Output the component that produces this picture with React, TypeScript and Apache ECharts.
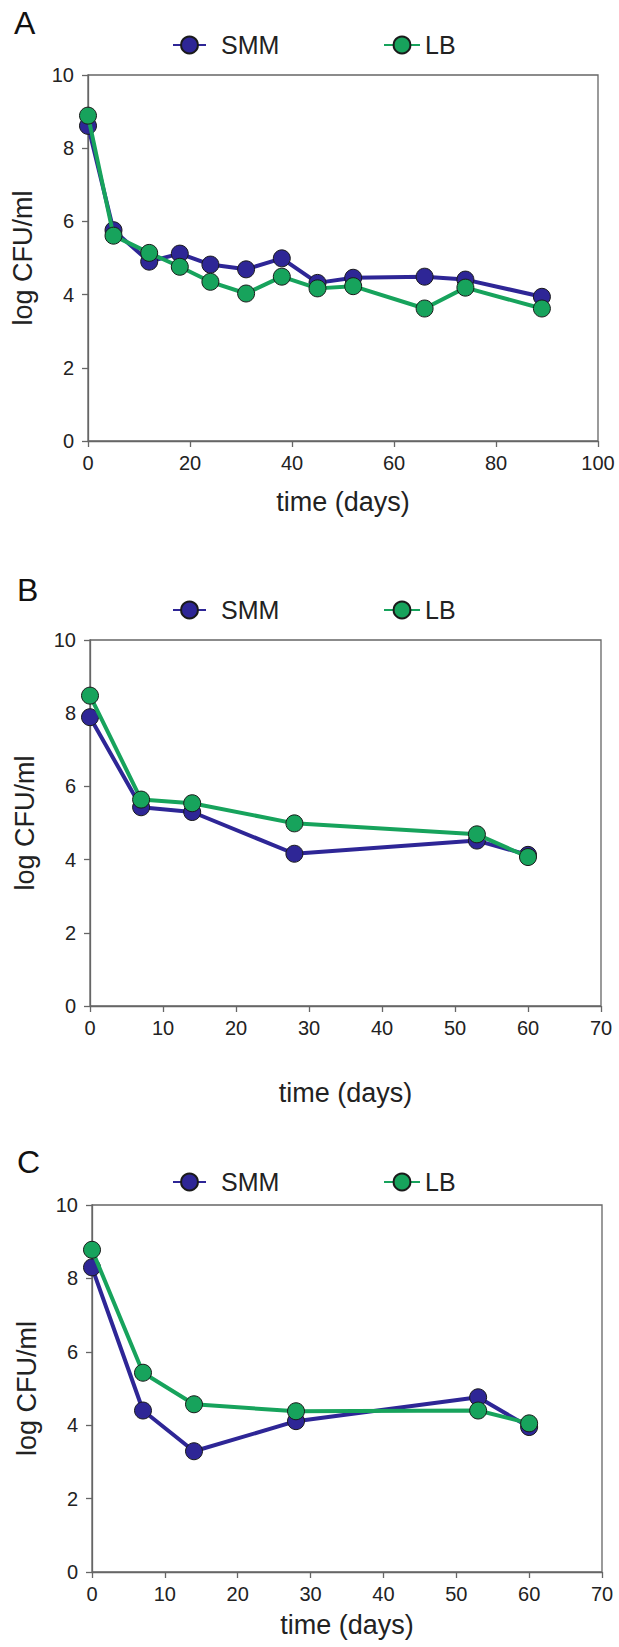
import React, { useEffect, useRef } from "react";
import * as echarts from "echarts";

// Survival curves: log CFU/ml over time for two growth media, three panels
const panelLetters = ["A", "B", "C"];
const seriesNames = ["SMM", "LB"];

const daysA = [0, 5, 12, 18, 24, 31, 38, 45, 52, 66, 74, 89];
const smmA = [8.61, 5.76, 4.9, 5.12, 4.82, 4.69, 4.99, 4.32, 4.46, 4.49, 4.41, 3.94];
const lbA = [8.89, 5.61, 5.14, 4.76, 4.35, 4.03, 4.49, 4.17, 4.23, 3.62, 4.19, 3.62];

const daysB = [0, 7, 14, 28, 53, 60];
const smmB = [7.89, 5.43, 5.3, 4.16, 4.52, 4.13];
const lbB = [8.48, 5.64, 5.54, 4.99, 4.69, 4.07];

const daysC = [0, 7, 14, 28, 53, 60];
const smmC = [8.3, 4.4, 3.29, 4.11, 4.76, 3.95];
const lbC = [8.78, 5.43, 4.57, 4.38, 4.4, 4.05];

const xMax = [100, 70, 70];
const xStep = [20, 10, 10];
const yMax = 10;
const yStep = 2;

const xTitle = "time (days)";
const yTitle = "log CFU/ml";

const FONT = "'Liberation Sans', Arial, sans-serif";
const SMM_COLOR = "#2e2696";
const LB_COLOR = "#17a35c";

// panel frames (px)
const grids = [
  { left: 88, top: 75, width: 510, height: 366 },
  { left: 90, top: 640, width: 511, height: 366 },
  { left: 92, top: 1205, width: 510, height: 367 },
];
const legendRows = [43, 608, 1180];
const letterRows = [23, 590, 1162];
const xNameGaps = [47, 73, 39];

export default function App() {
  const ref = useRef<HTMLDivElement>(null);

  useEffect(() => {
    if (!ref.current) return;
    const chart = echarts.init(ref.current, undefined, { renderer: "svg" });

    const panels = [
      { days: daysA, vals: [smmA, lbA] },
      { days: daysB, vals: [smmB, lbB] },
      { days: daysC, vals: [smmC, lbC] },
    ];
    const colors = [SMM_COLOR, LB_COLOR];

    const axisLine = { show: true, lineStyle: { color: "#666", width: 1.3 } };
    const axisTick = { show: true, inside: false, length: 6, lineStyle: { color: "#666", width: 1.3 } };
    const tickLabel = { fontSize: 20, color: "#222", fontFamily: FONT };
    const titleStyle = { fontSize: 27, color: "#222", fontFamily: FONT };

    const series: any[] = [];
    panels.forEach((p, i) => {
      p.vals.forEach((vals, k) => {
        series.push({
          type: "line",
          name: seriesNames[k],
          xAxisIndex: i,
          yAxisIndex: i,
          data: p.days.map((d, j) => [d, vals[j]]),
          symbol: "circle",
          symbolSize: 17,
          lineStyle: { color: colors[k], width: 4 },
          itemStyle: { color: colors[k], borderColor: "#1a1a1a", borderWidth: 1 },
          z: 2 + k,
        });
      });
    });

    const legends: any[] = [];
    legendRows.forEach((y) => {
      legends.push({
        data: [seriesNames[0]],
        left: 172,
        top: y - 10.5,
        padding: 0,
        itemWidth: 33,
        itemHeight: 21,
        selectedMode: false,
        textStyle: { fontSize: 25, color: "#222", fontFamily: FONT, padding: [0, 0, 0, 10] },
      });
      legends.push({
        data: [seriesNames[1]],
        left: 383,
        top: y - 10.5,
        padding: 0,
        itemWidth: 36,
        itemHeight: 21,
        selectedMode: false,
        textStyle: { fontSize: 25, color: "#222", fontFamily: FONT, padding: [0, 0, 0, 0] },
      });
    });

    chart.setOption({
      animation: false,
      backgroundColor: "#ffffff",
      grid: grids.map((g) => ({
        ...g,
        show: true,
        borderColor: "#666",
        borderWidth: 1.3,
        backgroundColor: "transparent",
        containLabel: false,
      })),
      xAxis: grids.map((_, i) => ({
        type: "value",
        gridIndex: i,
        min: 0,
        max: xMax[i],
        interval: xStep[i],
        name: xTitle,
        nameLocation: "middle",
        nameGap: xNameGaps[i],
        nameTextStyle: titleStyle,
        axisLine,
        axisTick,
        axisLabel: { ...tickLabel, margin: 12 },
        splitLine: { show: false },
      })),
      yAxis: grids.map((_, i) => ({
        type: "value",
        gridIndex: i,
        min: 0,
        max: yMax,
        interval: yStep,
        name: yTitle,
        nameLocation: "middle",
        nameGap: 52,
        nameTextStyle: titleStyle,
        axisLine,
        axisTick,
        axisLabel: { ...tickLabel, margin: 14 },
        splitLine: { show: false },
      })),
      legend: legends,
      graphic: panelLetters.map((t, i) => ({
        type: "text",
        left: i === 0 ? 14 : 17,
        top: letterRows[i] - 16,
        style: { text: t, fontSize: 32, fill: "#111", fontFamily: FONT },
      })),
      series,
    });

    return () => chart.dispose();
  }, []);

  return (
    <div
      ref={ref}
      style={{ position: "absolute", left: 0, top: 0, width: 619, height: 1647, background: "#fff" }}
    />
  );
}
